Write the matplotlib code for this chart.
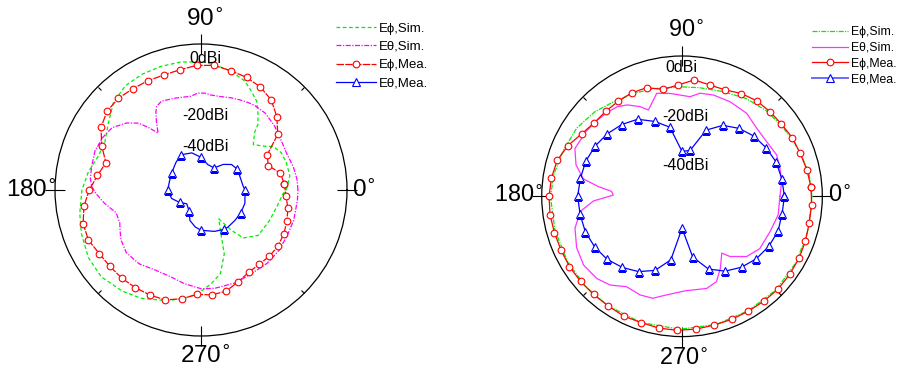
import numpy as np
import matplotlib
matplotlib.use("Agg")
import matplotlib.pyplot as plt
from matplotlib.ticker import FixedLocator
from matplotlib.lines import Line2D

plt.rcParams['font.family'] = ['Liberation Sans', 'DejaVu Sans']

R_MIN, R_MAX = -45, 5

# ---------------- left pattern ----------------
L_phi_sim_ang = [0, 9, 18, 25, 31, 34.4, 41, 47, 49, 53.5, 58, 63, 68, 76, 82, 88, 93, 99,
                 108, 117, 126, 135, 144, 154, 162, 171, 180, 191, 200, 211, 221, 232, 241,
                 252, 260, 268, 276, 283, 290, 293.4, 301.6, 307, 311.4, 321.5, 336, 350, 357]
L_phi_sim_db = [-15.8, -14.2, -14.3, -14.7, -16.1, -18.5, -21.3, -18.1, -15.3, -12.2, -9.1,
                -7.0, -4.8, -3.0, -2.2, -1.2, -1.1, -0.6, -0.5, -0.5, -0.9, -2.6, -5.8, -8.3,
                -7.9, -5.9, -4.2, -2.7, -1.4, 0.0, 0.3, -1.1, -2.6, -5.2, -7.1, -9.4, -12.6,
                -15.6, -21.7, -27.4, -33.4, -27.7, -23.1, -20.0, -19.3, -18.1, -17.0]

L_theta_sim_ang = [0, 6, 14, 23, 32, 41, 50, 58, 62, 67, 72, 78, 84, 88, 92, 96, 106, 114,
                   118, 120, 123.5, 127, 130, 133, 138, 145, 152, 160, 168, 174, 178, 182,
                   188, 195, 202, 207, 212, 220, 230, 240, 251, 260, 270, 278, 290, 300, 312,
                   322, 332, 342, 354]
L_theta_sim_db = [-11.8, -11.9, -12.4, -13.1, -12.7, -11.6, -10.7, -10.7, -11.0, -11.4, -11.8,
                  -12.3, -12.3, -11.8, -11.8, -12.7, -12.3, -11.7, -12.6, -14.1, -17.4, -20.6,
                  -17.1, -13.7, -10.7, -7.8, -6.8, -6.3, -6.7, -6.9, -7.5, -9.0, -11.7, -14.9,
                  -15.0, -13.9, -12.7, -11.6, -12.0, -13.4, -13.5, -12.4, -11.2, -11.0, -11.1,
                  -11.5, -11.2, -11.2, -11.6, -11.6, -11.8]

L_phi_mea_ang = np.arange(4, 360, 8)
L_phi_mea_db = [-16.4, -17.2, -20.5, -19.3, -12.5, -8.9, -5.9, -4.3, -3.4, -2.9, -2.1, -2.3,
                -3.2, -3.6, -3.4, -3.2, -2.7, -3.0, -4.6, -7.8, -11.1, -9.2, -6.7, -4.5, -3.0,
                -2.8, -3.9, -4.3, -4.4, -4.7, -5.0, -5.4, -7.2, -9.2, -8.9, -9.3, -11.1, -12.4,
                -12.7, -12.4, -12.4, -12.9, -13.7, -14.6, -15.8]

L_theta_mea_ang = [0, 5, 20, 30, 40, 49, 54, 60, 75, 90, 104, 120, 133, 150, 165, 180, 196,
                   210, 224, 240, 250, 261, 270, 288, 300, 306, 318, 330, 343]
L_theta_mea_db = [-29.9, -30.5, -30.9, -30.7, -31.4, -33.4, -35.0, -36.2, -36.0, -33.8, -31.9,
                  -31.1, -32.3, -33.4, -33.8, -33.6, -34.5, -36.5, -38.2, -36.8, -33.9, -32.2,
                  -31.2, -30.1, -29.4, -29.3, -29.4, -29.3, -29.3]

# ---------------- right pattern ----------------
R_phi_sim_ang = [0, 10, 19, 26.5, 35, 45.6, 56.6, 68.5, 80.6, 90, 105, 115, 126, 136, 147,
                 159, 170, 180, 195, 210, 223, 236, 252, 269, 285, 300, 315, 330, 345]
R_phi_sim_db = [1.3, 1.0, 0.0, -0.7, -1.5, -2.2, -3.3, -4.9, -5.8, -6.0, -5.3, -4.5, -3.4,
                -1.7, -0.3, 0.4, 1.3, 1.9, 1.9, 2.0, 2.1, 2.1, 2.3, 2.4, 2.3, 2.1, 2.3, 2.0, 1.6]

R_theta_sim_ang = [0, 8.4, 15.9, 23.6, 32.9, 42.3, 52.1, 63.1, 72.8, 80.1, 85.4, 91.1, 96.6,
                   103.8, 111.3, 115.1, 121, 126, 132, 138, 146, 156, 163.5, 170, 173.4, 176,
                   179, 183, 188.5, 196.6, 206, 215, 224, 231, 238.5, 247, 254, 261, 272, 285,
                   292, 298, 305, 308.5, 317, 326, 338, 349]
R_theta_sim_db = [-10.1, -9.1, -8.7, -8.2, -9.1, -9.0, -7.5, -7.2, -7.2, -7.7, -9.4, -8.9,
                  -8.1, -7.2, -12.0, -9.7, -7.0, -5.6, -4.9, -4.4, -3.7, -3.2, -5.6, -9.3,
                  -15.0, -19.8, -20.5, -13.4, -8.3, -5.2, -3.2, -2.2, -2.8, -4.3, -7.2, -6.8,
                  -7.2, -9.4, -11.3, -11.0, -12.2, -15.9, -20.3, -17.6, -13.5, -11.6, -11.2,
                  -10.1]

R_phi_mea_ang = np.arange(4, 360, 8)
R_phi_mea_db = [1.1, 0.5, -0.2, -0.5, -1.2, -1.5, -1.8, -2.7, -4.1, -4.1, -3.3, -5.3, -6.3,
                -4.3, -4.0, -4.2, -4.3, -4.2, -2.9, -0.5, 1.3, 2.0, 2.4, 2.5, 2.3, 2.2, 2.3,
                2.2, 2.1, 2.1, 2.5, 2.3, 2.7, 2.8, 2.6, 2.3, 2.3, 2.3, 2.4, 2.6, 2.4, 2.2, 1.8,
                1.3, 1.3]

R_theta_mea_ang = np.arange(0, 360, 10)
R_theta_mea_db = [-8.5, -8.9, -9.3, -10.4, -11.6, -13.4, -15.8, -19.9, -28.4, -29.0, -20.0,
                  -16.6, -13.3, -11.6, -10.3, -9.2, -8.5, -8.2, -7.8, -8.1, -8.3, -9.0, -10.1,
                  -11.9, -14.0, -16.9, -22.0, -33.6, -23.0, -17.4, -14.2, -12.0, -10.4, -9.3,
                  -8.6, -8.8]

labels = ["E\u03d5,Sim.", "E\u03b8,Sim.", "E\u03d5,Mea.", "E\u03b8,Mea."]
ring_labels = ["0dBi", "-20dBi", "-40dBi"]


def closed(ang, db):
    a = np.append(np.asarray(ang, float), ang[0])
    return np.deg2rad(a), np.append(np.asarray(db, float), db[0])


def setup(ax):
    ax.set_ylim(R_MIN, R_MAX)
    ax.set_yticks([])
    ax.grid(False)
    ax.set_xticks(np.deg2rad([0, 90, 180, 270]))
    ax.set_xticklabels([])
    ax.xaxis.set_minor_locator(FixedLocator(np.deg2rad([45, 135, 225, 315])))
    ax.tick_params(axis='x', which='both', bottom=False, top=True)
    ax.tick_params(axis='x', which='major', direction='inout', length=7, width=0.8)
    ax.tick_params(axis='x', which='minor', direction='in', length=3, width=0.8)
    ax.spines['polar'].set_linewidth(0.9)


fig = plt.figure(figsize=(8.99, 3.76), dpi=100)

# ---- left ----
axL = fig.add_axes([0.0612, 0.1064, 0.3248, 0.7766], projection='polar')
setup(axL)
t, r = closed(L_phi_sim_ang, L_phi_sim_db)
axL.plot(t, r, color='#00ee00', lw=0.9, ls=(0, (3, 2)), label=labels[0])
t, r = closed(L_theta_sim_ang, L_theta_sim_db)
axL.plot(t, r, color='#ff00ff', lw=0.9, ls=(0, (4, 1.2, 1, 1.2)), label=labels[1])
t, r = closed(L_phi_mea_ang, L_phi_mea_db)
axL.plot(t, r, color='red', lw=0.9, ls=(0, (6, 1)), marker='o', ms=4.8,
         mfc='white', mec='red', mew=0.8, label=labels[2])
t, r = closed(L_theta_mea_ang, L_theta_mea_db)
mk = [i for i, a in enumerate(L_theta_mea_ang) if a % 30 == 0]
axL.plot(t, r, color='blue', lw=0.9, marker='^', ms=5.2, markevery=mk,
         mfc='white', mec='blue', mew=0.8, label=labels[3])

for txt, th, rr in zip(ring_labels, [88.3, 86.9, 84.7], [-0.1, -19.3, -30.1]):
    axL.text(np.deg2rad(th), rr, txt, ha='center', va='center', fontsize=11.5)

for txt, x, y in [("90", 0.512, 1.0616), ("270", 0.514, -0.0925),
                  ("180", -0.082, 0.476), ("0", 1.058, 0.476)]:
    axL.text(x, y, txt + r"$^{\circ}$", transform=axL.transAxes, ha='center',
             va='baseline', fontsize=17.5)

fig.legend(handles=axL.get_lines(), labels=labels, loc='upper left',
           bbox_to_anchor=(0.374, 0.94), frameon=False, fontsize=9.5,
           handlelength=3.0, handletextpad=0.2, labelspacing=0.45,
           borderpad=0, borderaxespad=0)

# ---- right ----
axR = fig.add_axes([0.6026, 0.1048, 0.3121, 0.7463], projection='polar')
setup(axR)
t, r = closed(R_phi_sim_ang, R_phi_sim_db)
axR.plot(t, r, color='#00ee00', lw=0.9, ls=(0, (4, 1, 1, 1)), label=labels[0])
t, r = closed(R_theta_sim_ang, R_theta_sim_db)
axR.plot(t, r, color='#ff33ff', lw=0.9, label=labels[1])
t, r = closed(R_phi_mea_ang, R_phi_mea_db)
axR.plot(t, r, color='red', lw=0.9, marker='o', ms=4.8,
         mfc='white', mec='red', mew=0.8, label=labels[2])
t, r = closed(R_theta_mea_ang, R_theta_mea_db)
axR.plot(t, r, color='blue', lw=0.9, marker='^', ms=5.2,
         mfc='white', mec='blue', mew=0.8, label=labels[3])

for txt, th, rr in zip(ring_labels, [90.4, 87.8, 84.4], [0.8, -16.6, -34.1]):
    axR.text(np.deg2rad(th), rr, txt, ha='center', va='center', fontsize=11.5)

for txt, x, y in [("90", 0.514, 1.067), ("270", 0.506, -0.101),
                  ("180", -0.084, 0.479), ("0", 1.06, 0.479)]:
    axR.text(x, y, txt + r"$^{\circ}$", transform=axR.transAxes, ha='center',
             va='baseline', fontsize=16.8)

handlesR = axR.get_lines()[:3] + [Line2D([], [], color='#6a6aff', lw=1.4, marker='^',
                                         ms=5.2, mfc='white', mec='blue', mew=0.8)]
fig.legend(handles=handlesR, labels=labels, loc='upper left',
           bbox_to_anchor=(0.903, 0.93), frameon=False, fontsize=8.8,
           handlelength=3.0, handletextpad=0.2, labelspacing=0.3,
           borderpad=0, borderaxespad=0)

fig.savefig("out.png", dpi=100)
